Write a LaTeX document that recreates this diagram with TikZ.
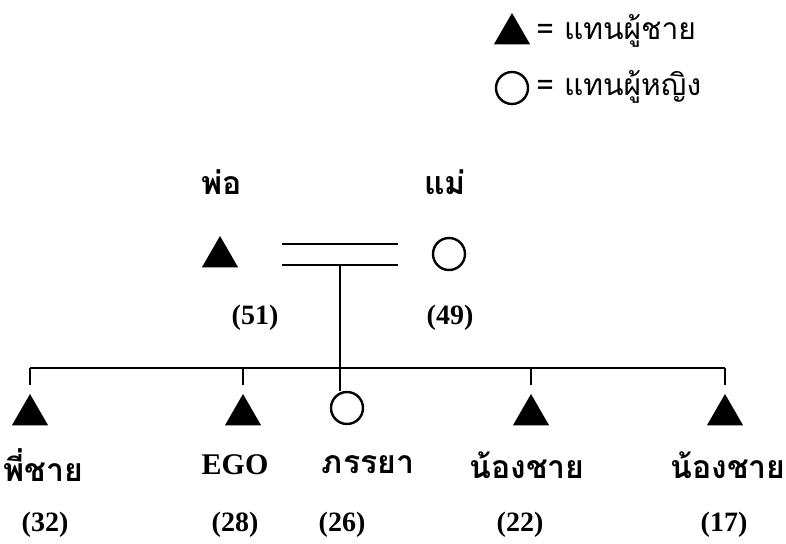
\documentclass[tikz,border=0pt]{standalone}
\usepackage{fontspec}
\setmainfont{Liberation Serif}
\newfontfamily\thaifont[Script=Thai]{Loma}
\usetikzlibrary{shapes.geometric}

\tikzset{
  male/.style={regular polygon, regular polygon sides=3, fill=black, draw=none,
    minimum size=21pt, inner sep=0pt},
  female/.style={circle, draw, line width=1.2pt, minimum size=16pt, inner sep=0pt},
  kin/.style={font=\thaifont\bfseries\fontsize{16}{18}\selectfont, inner sep=0pt},
  age/.style={font=\bfseries\fontsize{14}{16}\selectfont, inner sep=0pt},
  legend/.style={font=\thaifont\fontsize{15}{17}\selectfont, inner sep=0pt, anchor=west},
  tie/.style={line width=1pt}
}

\begin{document}
\begin{tikzpicture}[x=0.5pt,y=-0.5pt]
\useasboundingbox (0,0) rectangle (786,544);

% key for the symbols
\node[male] (keymale) at (512,34) {};
\node[legend] (keymaletext) at (536,31) {= แทนผู้ชาย};
\node[female] (keyfemale) at (512,88) {};
\node[legend] (keyfemaletext) at (536,87) {= แทนผู้หญิง};

% parents
\node[kin] (fatherlabel) at (222,182) {พ่อ};
\node[kin] (motherlabel) at (445,182) {แม่};
\node[male] (father) at (220,257) {};
\node[female] (mother) at (449,254) {};
\node[age] (fatherage) at (255,318) {(51)};
\node[age] (motherage) at (450,318) {(49)};

% marriage: two bars, descent line from the lower one
\node[coordinate] (marupL) at (282,244) {};
\node[coordinate] (marupR) at (398,244) {};
\node[coordinate] (marlowL) at (282,265) {};
\node[coordinate] (marlowR) at (398,265) {};
\node[coordinate] (descent) at (340,265) {};

% children
\node[male] (brother) at (30,415) {};
\node[male] (ego) at (243,415) {};
\node[female] (wife) at (347,408) {};
\node[male] (younger) at (531,415) {};
\node[male] (youngest) at (725,415) {};

\node[coordinate] (barbrother) at (30,368) {};
\node[coordinate] (barego) at (243,368) {};
\node[coordinate] (barwife) at (340,368) {};
\node[coordinate] (baryounger) at (531,368) {};
\node[coordinate] (baryoungest) at (725,368) {};

\node[kin] (brotherlabel) at (43,465) {พี่ชาย};
\node[font=\bfseries\fontsize{15}{17}\selectfont, inner sep=0pt] (egolabel) at (235,465) {EGO};
\node[kin] (wifelabel) at (368,465) {ภรรยา};
\node[kin] (youngerlabel) at (527,465) {น้องชาย};
\node[kin] (youngestlabel) at (728,465) {น้องชาย};

\node[age] (brotherage) at (45,525) {(32)};
\node[age] (egoage) at (235,525) {(28)};
\node[age] (wifeage) at (342,525) {(26)};
\node[age] (youngerage) at (520,525) {(22)};
\node[age] (youngestage) at (724,525) {(17)};

\draw[tie] (marupL) -- (marupR)  (marlowL) -- (marlowR);
\draw[tie] (descent) -- (barwife);
\draw[tie] (barbrother) -- (baryoungest);
\draw[tie] (barbrother) -- ++(0,17)  (barego) -- ++(0,17)
  (baryounger) -- ++(0,17)  (baryoungest) -- ++(0,17);
\draw[tie] (barwife) -- (barwife |- wife.north);
\end{tikzpicture}
\end{document}
